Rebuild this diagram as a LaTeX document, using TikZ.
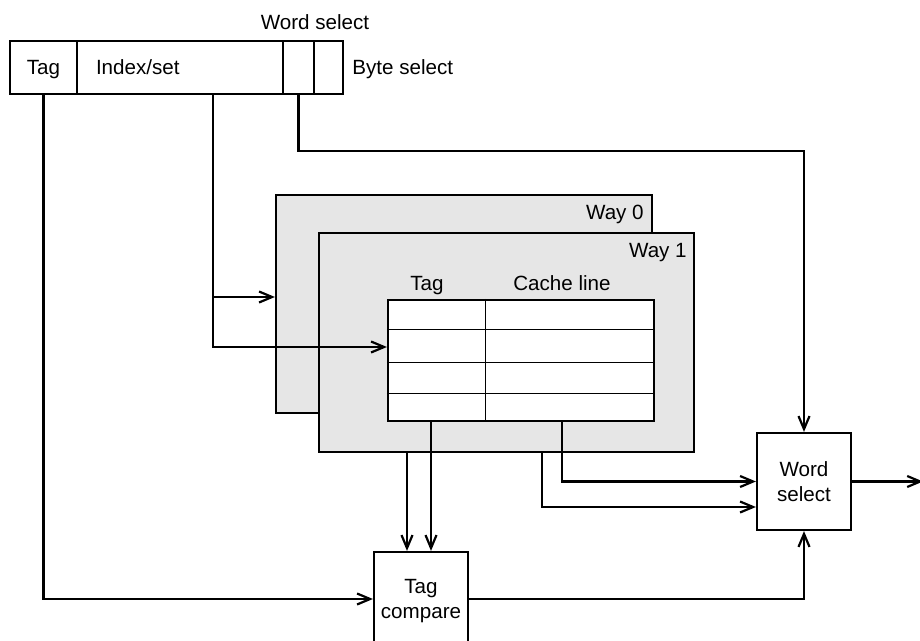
\documentclass[tikz,border=0pt]{standalone}
\usepackage{fontspec}
\setmainfont{Liberation Sans}
\usetikzlibrary{
  arrows.meta,
  calc
}
\definecolor{wayfill}{HTML}{E6E6E6}

\begin{document}
\begin{tikzpicture}[x=0.5pt, y=-0.5pt,
  font=\fontsize{10.3}{12.4}\selectfont,
  field/.style={draw, line width=1.1pt, inner sep=0pt, text depth=0pt, minimum height=26.5pt},
  way/.style={draw, fill=wayfill, line width=1.1pt, inner sep=0pt},
  blk/.style={draw, fill=white, line width=1.1pt, inner sep=0pt, text depth=0pt, align=center},
  lbl/.style={inner sep=0pt, text depth=0pt},
  arr/.style={line width=1.1pt, -{Straight Barb[length=6.5pt, width=5.5pt]}}
]
  \path[use as bounding box, clip] (0,0) rectangle (920,641);

  % Address
  \node[field, minimum width=33.5pt] (tagf) at (43.5,67.5) {Tag};
  \node[field, minimum width=103pt, text width=84pt, align=left] (idxf) at (180,67.5) {Index/set};
  \node[field, minimum width=15.5pt] (wsf) at (298.5,67.5) {};
  \node[field, minimum width=14.5pt] (bsf) at (328.5,67.5) {};
  \node[lbl] (wslbl) at (315,22) {Word select};
  \node[lbl, anchor=west] (bslbl) at (352,67.5) {Byte select};

  % Ways
  \node[way, minimum width=188pt, minimum height=109pt] (way0) at (464,304) {};
  \node[lbl, anchor=east] (w0lbl) at ($(way0.north east)+(-9,18)$) {Way 0};
  \node[way, minimum width=187.5pt, minimum height=109.5pt] (way1) at (506.5,342.5) {};
  \node[lbl, anchor=east] (w1lbl) at ($(way1.north east)+(-8,19)$) {Way 1};

  % Table
  \node[blk, minimum width=133pt, minimum height=60.5pt] (tbl) at (521,360.5) {};
  \foreach \y in {330,363,393}
    \draw[line width=0.5pt] (tbl.west |- 0,\y) -- (tbl.east |- 0,\y);
  \draw[line width=0.5pt] (485,0 |- tbl.north) -- (485,0 |- tbl.south);
  \node[lbl] (taghdr) at (427,283) {Tag};
  \node[lbl] (linehdr) at (562,283) {Cache line};

  % Logic
  \node[blk, minimum width=47pt, minimum height=47pt] (tagcmp) at (421,599) {Tag\\compare};
  \node[blk, minimum width=47pt, minimum height=48.5pt] (wsel) at (804,481.5) {Word\\select};

  % Connectors
  \coordinate (idxdrop) at (idxf.south -| 213,0);
  \coordinate (w0in) at (way0.west |- 0,297);
  \coordinate (row2) at (tbl.west |- 0,347);
  \draw[arr] (idxdrop) |- (row2);
  \draw[arr] (idxdrop |- w0in) -- (w0in);
  \draw[arr] (tagf.south) |- (tagcmp.west);
  \draw[arr] (wsf.south) -- ++(0,56) -| (wsel.north);

  \coordinate (tagA) at (way1.south -| 407,0);
  \coordinate (tagB) at (tbl.south -| 431,0);
  \coordinate (lineA) at (tbl.south -| 562,0);
  \coordinate (lineB) at (way1.south -| 542,0);
  \draw[arr] (tagA) -- (tagA |- tagcmp.north);
  \draw[arr] (tagB) -- (tagB |- tagcmp.north);
  \draw[arr] (lineA) |- (wsel.west);
  \draw[arr] (lineB) |- ([yshift=-12.75pt]wsel.west);
  \draw[arr] (tagcmp.east) -| (wsel.south);
  \coordinate (out) at (923,481.5);
  \draw[arr] (wsel.east) -- (out);
\end{tikzpicture}
\end{document}
